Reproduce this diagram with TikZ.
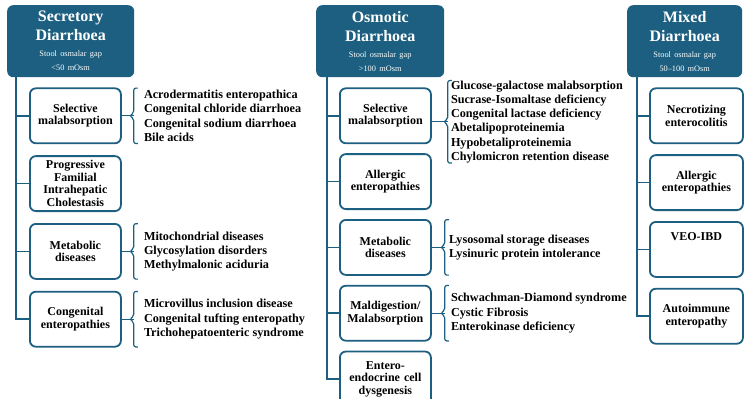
\documentclass[tikz,border=0pt]{standalone}
\usepackage{fontspec}
\setmainfont{Liberation Serif}
\usetikzlibrary{positioning}
\definecolor{deepteal}{RGB}{28,95,128}
\tikzset{
    header/.style={rectangle, rounded corners=6pt, fill=deepteal, text=white, anchor=north west, minimum height=72pt, align=center, inner xsep=2pt, inner ysep=2pt, font=\bfseries},
    subbox/.style={rectangle, rounded corners=6pt, draw=deepteal, line width=1.8pt, fill=white, minimum height=55pt, text width=84pt, inner xsep=3.5pt, inner ysep=2pt, align=center, font=\bfseries\fontsize{12}{12.5}\selectfont},
    itemlist/.style={minimum height=55pt, align=left, inner xsep=10pt, inner ysep=0pt, font=\bfseries\fontsize{12.2}{14.2}\selectfont},
    trunk/.style={draw=deepteal, line width=1.6pt},
    brace/.style={draw=deepteal, line width=1.2pt, rounded corners=2pt}
}
\newcommand{\headtext}[3]{{\fontsize{16}{19}\selectfont #1\\#2\par}\vspace{2pt}{\mdseries\fontsize{8.3}{14}\selectfont Stool osmalar gap\\#3\par}}
\newcommand{\sidebrace}[1]{\draw[brace] ([xshift=4pt]#1.north west) -- (#1.north west) -- ([yshift=3pt]#1.west) -- ([xshift=-4pt]#1.west) -- ([yshift=-3pt]#1.west) -- (#1.south west) -- ([xshift=4pt]#1.south west);}
\begin{document}
\begin{tikzpicture}[x=1pt, y=1pt]
    \useasboundingbox (0,0) rectangle (745,-399);

    % secretory
    \node (sHead) [header, text width=123pt] at (7,-5) {\headtext{Secretory}{Diarrhoea}{<50 mOsm}};
    \node (sBox1) [subbox, below right=10pt and 22pt of sHead.south west] {Selective\\malabsorption};
    \node (sBox2) [subbox, below=11pt of sBox1] {Progressive\\Familial\\Intrahepatic\\Cholestasis};
    \node (sBox3) [subbox, below=11pt of sBox2] {Metabolic\\diseases};
    \node (sBox4) [subbox, below=11pt of sBox3] {Congenital\\enteropathies};

    \node (sList1) [itemlist, right=12pt of sBox1] {Acrodermatitis enteropathica\\Congenital chloride diarrhoea\\Congenital sodium diarrhoea\\Bile acids};
    \node (sList3) [itemlist, right=12pt of sBox3] {Mitochondrial diseases\\Glycosylation disorders\\Methylmalonic aciduria};
    \node (sList4) [itemlist, right=12pt of sBox4] {Microvillus inclusion disease\\Congenital tufting enteropathy\\Trichohepatoenteric syndrome};

    \coordinate (sTop) at ([xshift=9pt]sHead.south west);
    \draw [trunk] (sTop) |- (sBox4.west);
    \foreach \i in {1,2,3}
        \draw [trunk] (sTop |- sBox\i.west) -- (sBox\i.west);
    \foreach \i in {1,3,4} {
        \draw [brace] (sBox\i.east) -- (sList\i.west);
        \sidebrace{sList\i}
    }

    % osmotic
    \node (oHead) [header, text width=124pt] at (316,-5) {\headtext{Osmotic}{Diarrhoea}{>100 mOsm}};
    \node (oBox1) [subbox, below right=10pt and 23pt of oHead.south west] {Selective\\malabsorption};
    \node (oBox2) [subbox, below=9pt of oBox1] {Allergic\\enteropathies};
    \node (oBox3) [subbox, below=9pt of oBox2] {Metabolic\\diseases};
    \node (oBox4) [subbox, below=9pt of oBox3] {Maldigestion/\\Malabsorption};
    \node (oBox5) [subbox, below=9pt of oBox4] {Entero-\\endocrine cell\\dysgenesis};

    \node (oList1) [itemlist, inner xsep=3pt, right=16pt of oBox1, yshift=-6pt] {Glucose-galactose malabsorption\\Sucrase-Isomaltase deficiency\\Congenital lactase deficiency\\Abetalipoproteinemia\\Hypobetaliproteinemia\\Chylomicron retention disease};
    \node (oList3) [itemlist, inner xsep=4pt, right=13pt of oBox3] {Lysosomal storage diseases\\Lysinuric protein intolerance};
    \node (oList4) [itemlist, inner xsep=6pt, right=13pt of oBox4] {Schwachman-Diamond syndrome\\Cystic Fibrosis\\Enterokinase deficiency};

    \coordinate (oTop) at ([xshift=11pt]oHead.south west);
    \draw [trunk] (oTop) |- (oBox5.west);
    \foreach \i in {1,2,3,4}
        \draw [trunk] (oTop |- oBox\i.west) -- (oBox\i.west);
    \foreach \i in {1,3,4} {
        \draw [brace] (oBox\i.east |- oList\i.west) -- (oList\i.west);
        \sidebrace{oList\i}
    }

    % mixed
    \node (mHead) [header, text width=111pt] at (627,-5) {\headtext{Mixed}{Diarrhoea}{50--100 mOsm}};
    \node (mBox1) [subbox, text width=86pt, text depth=12pt, below right=10pt and 22pt of mHead.south west] {Necrotizing\\enterocolitis};
    \node (mBox2) [subbox, text width=86pt, below=10pt of mBox1] {Allergic\\enteropathies};
    \node (mBox3) [subbox, text width=86pt, text depth=26pt, below=10pt of mBox2] {VEO-IBD};
    \node (mBox4) [subbox, text width=86pt, below=10pt of mBox3] {Autoimmune\\enteropathy};

    \coordinate (mTop) at ([xshift=10pt]mHead.south west);
    \draw [trunk] (mTop) |- (mBox4.west);
    \foreach \i in {1,2,3}
        \draw [trunk] (mTop |- mBox\i.west) -- (mBox\i.west);
\end{tikzpicture}
\end{document}
